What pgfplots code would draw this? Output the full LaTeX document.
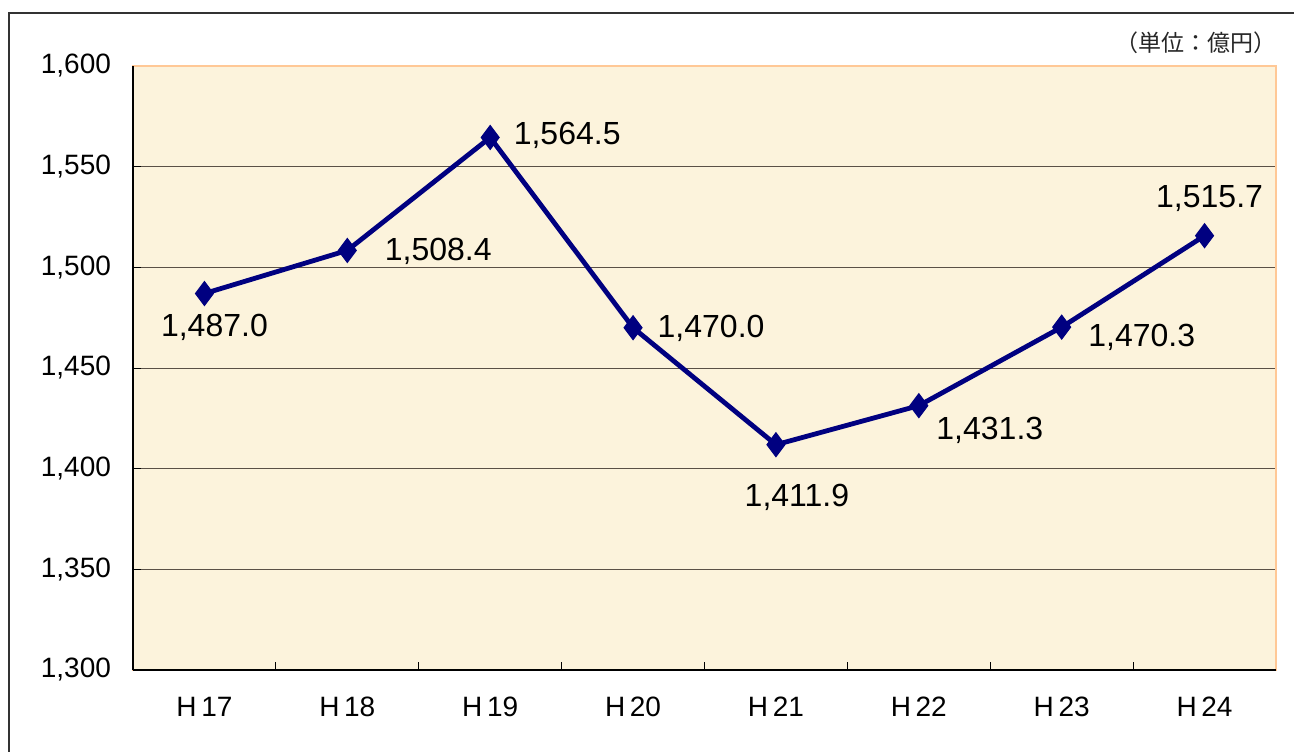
\documentclass[border=0pt]{standalone}
\usepackage{pgfplots}
\pgfplotsset{compat=1.18}
\usepackage{fontspec}
\setmainfont{Liberation Sans}
\newfontfamily\cjk{Noto Sans CJK JP}
\definecolor{bgc}{RGB}{252,243,220}
\definecolor{edgec}{RGB}{255,200,150}
\definecolor{navyc}{RGB}{0,0,128}
\definecolor{gridc}{RGB}{90,80,70}
\begin{document}
\begin{tikzpicture}
\useasboundingbox (-66.5pt,-40.5pt) rectangle (580.5pt,335pt);
\draw[line width=0.6pt, black!80] (-62pt,-45pt) -- (-62pt,328.5pt) -- (585pt,328.5pt);
\begin{axis}[
  scale only axis, width=571.5pt, height=302pt,
  xmin=0, xmax=8, ymin=1300, ymax=1600,
  axis background/.style={fill=bgc},
  axis line style={draw=edgec, line width=1pt},
  xtick={0,1,...,8}, xticklabels={},
  extra x ticks={0.5,1.5,2.5,3.5,4.5,5.5,6.5,7.5},
  extra x tick labels={H\,17,H\,18,H\,19,H\,20,H\,21,H\,22,H\,23,H\,24},
  extra x tick style={major tick length=0pt, grid=none},
  ytick={1300,1350,...,1600},
  yticklabels={{1,300},{1,350},{1,400},{1,450},{1,500},{1,550},{1,600}},
  ymajorgrids, grid style={gridc, line width=0.5pt},
  tick style={black, line width=0.5pt},
  major tick length=4pt,
  tick align=inside,
  xtick pos=bottom, ytick pos=left,
  tick label style={font=\fontsize{14}{16}\selectfont, text=black},
  x tick label style={yshift=-10pt},
  y tick label style={xshift=-7.5pt},
  clip=false,
]
\draw[black, line width=0.6pt] (rel axis cs:0,0) -- (rel axis cs:0,1);
\draw[black, line width=0.6pt] (rel axis cs:0,0) -- (rel axis cs:1,0);
\addplot[navyc, line width=2.4pt, mark=diamond*, mark size=6pt, mark options={fill=navyc, draw=navyc, line width=0.5pt}]
 coordinates {(0.5,1487.0) (1.5,1508.4) (2.5,1564.5) (3.5,1470.0) (4.5,1411.9) (5.5,1431.3) (6.5,1470.3) (7.5,1515.7)};
\begin{scope}[every node/.style={font=\fontsize{16}{18}\selectfont, text=black}]
\node at ([shift={(5pt,-17pt)}]axis cs:0.5,1487.0) {1,487.0};
\node at ([shift={(45.5pt,-0.5pt)}]axis cs:1.5,1508.4) {1,508.4};
\node at ([shift={(38.5pt,1pt)}]axis cs:2.5,1564.5) {1,564.5};
\node at ([shift={(39pt,-0.5pt)}]axis cs:3.5,1470.0) {1,470.0};
\node at ([shift={(10.5pt,-26.5pt)}]axis cs:4.5,1411.9) {1,411.9};
\node at ([shift={(35.5pt,-12.5pt)}]axis cs:5.5,1431.3) {1,431.3};
\node at ([shift={(40pt,-5pt)}]axis cs:6.5,1470.3) {1,470.3};
\node at ([shift={(2.5pt,18.5pt)}]axis cs:7.5,1515.7) {1,515.7};
\end{scope}
\node[font=\cjk\fontsize{11.5}{13}\selectfont, text=black!85] at ([shift={(531.5pt,313.5pt)}]rel axis cs:0,0) {（単位：億円）};
\end{axis}
\end{tikzpicture}
\end{document}
